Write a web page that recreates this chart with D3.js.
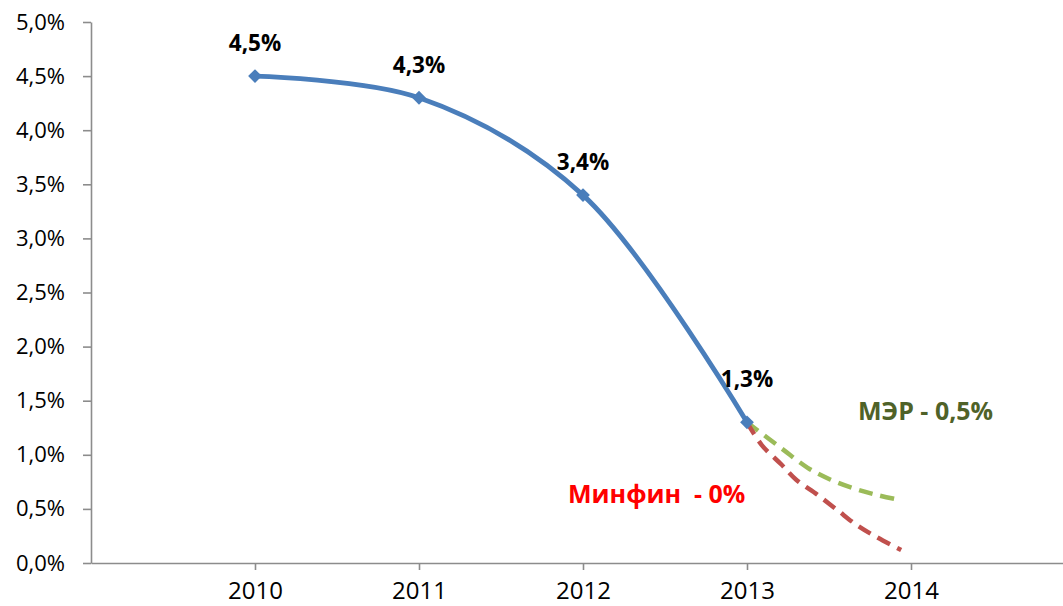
<!DOCTYPE html>
<html>
<head>
<meta charset="utf-8">
<script src="https://cdn.jsdelivr.net/npm/d3@7"></script>
<style>
    body { margin: 0; background: #fff; }
    svg { display: block; font-family: "Open Sans", sans-serif; }
</style>
</head>
<body>
<div id="chart"></div>
<script>
// actual values
var years = [2010, 2011, 2012, 2013];
var values = [4.5, 4.3, 3.4, 1.3];
var valueLabels = ['4,5%', '4,3%', '3,4%', '1,3%'];

// forecast curves (МЭР / Минфин)
var merYears = [2013, 2013.21, 2013.37, 2013.51, 2013.65, 2013.79, 2013.94];
var merValues = [1.3, 1.06, 0.88, 0.77, 0.69, 0.63, 0.58];
var minfinYears = [2013, 2013.09, 2013.21, 2013.30, 2013.43, 2013.55, 2013.67, 2013.79, 2013.94];
var minfinValues = [1.3, 1.09, 0.91, 0.77, 0.63, 0.49, 0.35, 0.24, 0.12];

var xTicks = [2010, 2011, 2012, 2013, 2014];
var yTicks = [0, 0.5, 1, 1.5, 2, 2.5, 3, 3.5, 4, 4.5, 5];

var merLabel = 'МЭР - 0,5%';
var minfinLabel = 'Минфин  - 0%';

function drawChart() {
    const width = 1063;
    const height = 606;

    const svg = d3.create('svg')
        .attr('width', width)
        .attr('height', height);

    const xScale = d3.scaleLinear()
        .domain([2009, 2015])
        .range([91, 1075]);

    const yScale = d3.scaleLinear()
        .domain([0, 5])
        .range([563, 22]);

    const fmt = d => d3.format('.1f')(d).replace('.', ',') + '%';

    // y axis
    const yAxis = svg.append('g')
        .attr('transform', `translate(${xScale(2009)},0)`)
        .call(d3.axisLeft(yScale).tickValues(yTicks).tickFormat(fmt).tickSize(8).tickSizeOuter(0).tickPadding(18));
    yAxis.selectAll('text').attr('font-size', 22).attr('fill', '#000').attr('font-family', '"Open Sans", sans-serif');

    // x axis
    const xAxis = svg.append('g')
        .attr('transform', `translate(0,${yScale(0)})`)
        .call(d3.axisBottom(xScale).tickValues(xTicks).tickFormat(d3.format('d')).tickSize(7).tickSizeOuter(0).tickPadding(12));
    xAxis.selectAll('text').attr('font-size', 24).attr('fill', '#000').attr('font-family', '"Open Sans", sans-serif');

    svg.selectAll('.domain, .tick line')
        .attr('stroke', '#8c8c8c')
        .attr('stroke-width', 1.6);

    const line = d3.line()
        .x(d => xScale(d[0]))
        .y(d => yScale(d[1]))
        .curve(d3.curveCatmullRom);

    // forecasts
    svg.append('path')
        .attr('d', line(d3.zip(merYears, merValues)))
        .attr('fill', 'none')
        .attr('stroke', '#9BBB59')
        .attr('stroke-width', 4.5)
        .attr('stroke-dasharray', '14,8');

    svg.append('path')
        .attr('d', line(d3.zip(minfinYears, minfinValues)))
        .attr('fill', 'none')
        .attr('stroke', '#C0504D')
        .attr('stroke-width', 4.5)
        .attr('stroke-dasharray', '14,8');

    // main series
    svg.append('path')
        .attr('d', line(d3.zip(years, values)))
        .attr('fill', 'none')
        .attr('stroke', '#4A7EBB')
        .attr('stroke-width', 4.8);

    svg.selectAll('.marker')
        .data(d3.zip(years, values))
        .enter().append('path')
        .attr('class', 'marker')
        .attr('d', d3.symbol().type(d3.symbolSquare).size(95))
        .attr('transform', d => `translate(${xScale(d[0])},${yScale(d[1])}) rotate(45)`)
        .attr('fill', '#4A7EBB');

    svg.selectAll('.vlabel')
        .data(d3.zip(years, values, valueLabels))
        .enter().append('text')
        .attr('class', 'vlabel')
        .attr('x', d => xScale(d[0]))
        .attr('y', (d, i) => yScale(d[1]) - (i === 3 ? 35 : 25))
        .attr('text-anchor', 'middle')
        .attr('font-size', 22.5)
        .attr('font-weight', 'bold')
        .text(d => d[2]);

    svg.append('text')
        .attr('x', 858)
        .attr('y', 420)
        .attr('font-size', 25)
        .attr('font-weight', 'bold')
        .attr('fill', '#4F6228')
        .text(merLabel);

    svg.append('text')
        .attr('x', 568)
        .attr('y', 503)
        .attr('font-size', 25)
        .attr('font-weight', 'bold')
        .attr('fill', '#FF0000')
        .style('white-space', 'pre')
        .text(minfinLabel);

    d3.select('#chart').node().append(svg.node());
}

drawChart();
</script>
</body>
</html>
